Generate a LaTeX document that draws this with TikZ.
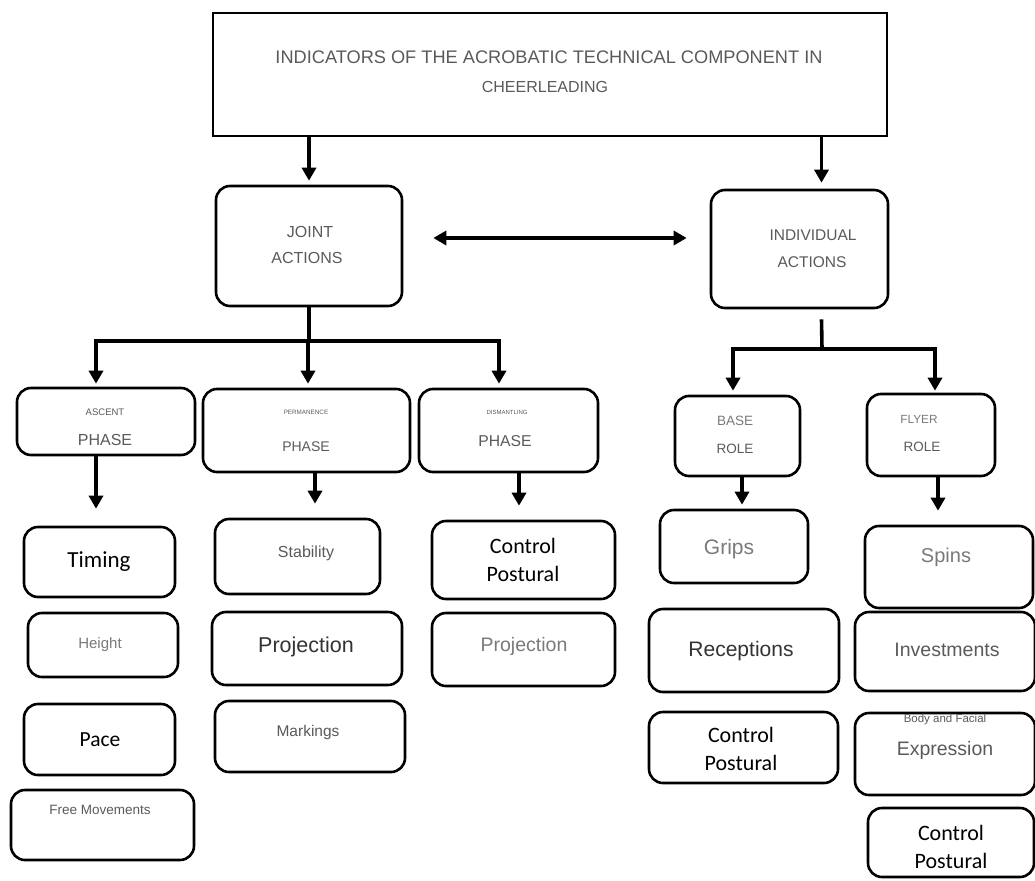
\documentclass[tikz,border=0pt]{standalone}
\usepackage{fontspec}
\setmainfont{Liberation Sans}
\newfontfamily\calfont{Carlito}
\usetikzlibrary{arrows.meta,calc}
\definecolor{tg}{HTML}{5A5A5A}
\definecolor{tl}{HTML}{7A7A7A}
\definecolor{td}{HTML}{333333}
\newcommand{\fs}[1]{\fontsize{#1}{#1}\selectfont}
\begin{document}
\begin{tikzpicture}[x=1pt,y=-1pt,
  box/.style={draw=black,line width=2.6pt,rounded corners=14pt,inner sep=0pt,fill=white},
  sbox/.style={draw=black,line width=2.8pt,inner sep=0pt,fill=white},
  txt/.style={inner sep=0pt,align=center,text=tg},
  ltxt/.style={inner sep=0pt,align=center,text=tl},
  dtxt/.style={inner sep=0pt,align=center,text=td},
  btxt/.style={inner sep=0pt,align=center,text=black,font=\calfont},
  cptxt/.style={inner sep=0pt,align=center,text=black,font={\calfont\fontsize{22}{28}\selectfont}},
  arr/.style={line width=3.6pt,-{Triangle[length=13pt,width=14pt]}},
  dbl/.style={line width=3.6pt,{Triangle[length=13pt,width=14pt]}-{Triangle[length=13pt,width=14pt]}},
  ln/.style={line width=3.6pt}]
\useasboundingbox (0,0) rectangle (1035,880);
\def\bx#1#2#3#4#5#6{\node[#1,minimum width=#5-#3 pt,minimum height=#6-#4 pt] (#2) at ({(#3+#5)/2},{(#4+#6)/2}) {};}
\bx{sbox}{title}{213}{13}{887}{136}
\bx{box}{joint}{216}{186}{402}{306}
\bx{box}{indiv}{711}{190}{888}{308}
\bx{box}{ascent}{17}{388}{195}{455}
\bx{box}{perm}{203}{389}{410}{472}
\bx{box}{dism}{419}{389}{598}{472}
\bx{box}{base}{675}{396}{800}{476}
\bx{box}{flyer}{867}{394}{995}{476}
\bx{box}{timing}{24}{527}{175}{597}
\bx{box}{height}{28}{613}{178}{677}
\bx{box}{pace}{24}{704}{175}{775}
\bx{box}{free}{11}{790}{194}{860}
\bx{box}{stab}{215}{519}{380}{594}
\bx{box}{proj}{212}{612}{402}{685}
\bx{box}{mark}{215}{701}{405}{772}
\bx{box}{cpA}{432}{521}{615}{599}
\bx{box}{projB}{432}{613}{615}{686}
\bx{box}{grips}{660}{510}{808}{583}
\bx{box}{recep}{649}{609}{839}{692}
\bx{box}{cpB}{649}{712}{838}{783}
\bx{box}{spins}{865}{526}{1033}{608}
\bx{box}{invest}{855}{612}{1035}{691}
\bx{box}{expr}{855}{713}{1035}{795}
\bx{box}{cpC}{868}{808}{1034}{877}
% texts
\node[txt] (t1) at (549,57) {\fs{18.2}INDICATORS OF THE ACROBATIC TECHNICAL COMPONENT IN};
\node[txt] (t2) at (545,87) {\fs{16}CHEERLEADING};
\node[txt] (tj1) at (310,232) {\fs{16}JOINT};
\node[txt] (tj2) at (307,258) {\fs{16}ACTIONS};
\node[txt] (ti1) at (813,235) {\fs{15.5}INDIVIDUAL};
\node[txt] (ti2) at (812,262) {\fs{15.5}ACTIONS};
\node[txt] (ta1) at (105,412) {\fs{9.5}ASCENT};
\node[txt] (ta2) at (105,440) {\fs{16}PHASE};
\node[txt] (tp1) at (306,412) {\fs{6.3}PERMANENCE};
\node[txt] (tp2) at (306,447) {\fs{14}PHASE};
\node[txt] (td1) at (507,412) {\fs{6}DISMANTLING};
\node[txt] (td2) at (505,441) {\fs{15.7}PHASE};
\node[ltxt] (tb1) at (735,421) {\fs{13.5}BASE};
\node[txt] (tb2) at (735,449) {\fs{13.5}ROLE};
\node[ltxt] (tf1) at (919,419) {\fs{11.8}FLYER};
\node[txt] (tf2) at (922,447) {\fs{13.5}ROLE};
\node[btxt] (tt) at (99,562) {\fs{23}Timing};
\node[ltxt] (th) at (100,645) {\fs{15}Height};
\node[btxt] (tpc) at (100,740) {\fs{21.5}Pace};
\node[txt] (tfm) at (100,810) {\fs{13.5}Free Movements};
\node[txt] (ts) at (306,553) {\fs{16}Stability};
\node[dtxt] (tpr) at (306,647) {\fs{21.5}Projection};
\node[txt] (tm) at (308,732) {\fs{15.5}Markings};
\node[cptxt] (tca) at (523,560) {Control\\Postural};
\node[ltxt] (tpb) at (524,646) {\fs{19.5}Projection};
\node[ltxt] (tg) at (729,549) {\fs{21}Grips};
\node[dtxt] (tr) at (741,651) {\fs{21}Receptions};
\node[cptxt] (tcb) at (741,749) {Control\\Postural};
\node[ltxt] (tsp) at (946,557) {\fs{20}Spins};
\node[txt] (tiv) at (947,650) {\fs{19.5}Investments};
\node[txt] (tbf) at (945,720) {\fs{11.5}Body and Facial};
\node[txt] (tex) at (945,750) {\fs{19.5}Expression};
\node[cptxt] (tcc) at (951,847) {Control\\Postural};
% connectors
\draw[arr,shorten >=4pt] (title.south -| joint.north) -- (joint.north);
\coordinate (ia) at ($(indiv.north)+(22,0)$);
\draw[arr,shorten >=6pt] (title.south -| ia) -- (ia);
\draw[dbl,shorten <=30pt,shorten >=23pt] ($(joint.east)+(0,-8)$) -- ($(indiv.west)+(0,-11)$);
% joint bus
\coordinate (jb) at (309,341);
\draw[ln] (joint.south) -- (jb);
\draw[ln] (94,341) -- (501,341);
\draw[arr,shorten >=3pt] (96,341) -- (ascent.north -| 96,0);
\draw[arr,shorten >=4pt] (308,341) -- (perm.north -| 308,0);
\draw[arr,shorten >=4pt] (499,341) -- (dism.north -| 499,0);
% individual bus
\coordinate (ib) at (822,349);
\draw[ln] ($(indiv.south)+(22,10)$) -- (ib);
\draw[ln] (731,349) -- (937,349);
\draw[arr,shorten >=4pt] (733,349) -- (base.north -| 733,0);
\draw[arr,shorten >=2pt] (935,349) -- (flyer.north -| 935,0);
% phase to leaves
\draw[arr,shorten >=17pt] (ascent.south -| 96,0) -- (timing.north -| 96,0);
\draw[arr,shorten >=14pt] (perm.south -| 315,0) -- (stab.north -| 315,0);
\draw[arr,shorten >=14pt] (dism.south -| 519,0) -- (cpA.north -| 519,0);
\draw[arr,shorten >=4pt] (base.south -| 742,0) -- (grips.north -| 742,0);
\draw[arr,shorten >=14pt] (flyer.south -| 938,0) -- (spins.north -| 938,0);
\end{tikzpicture}
\end{document}
